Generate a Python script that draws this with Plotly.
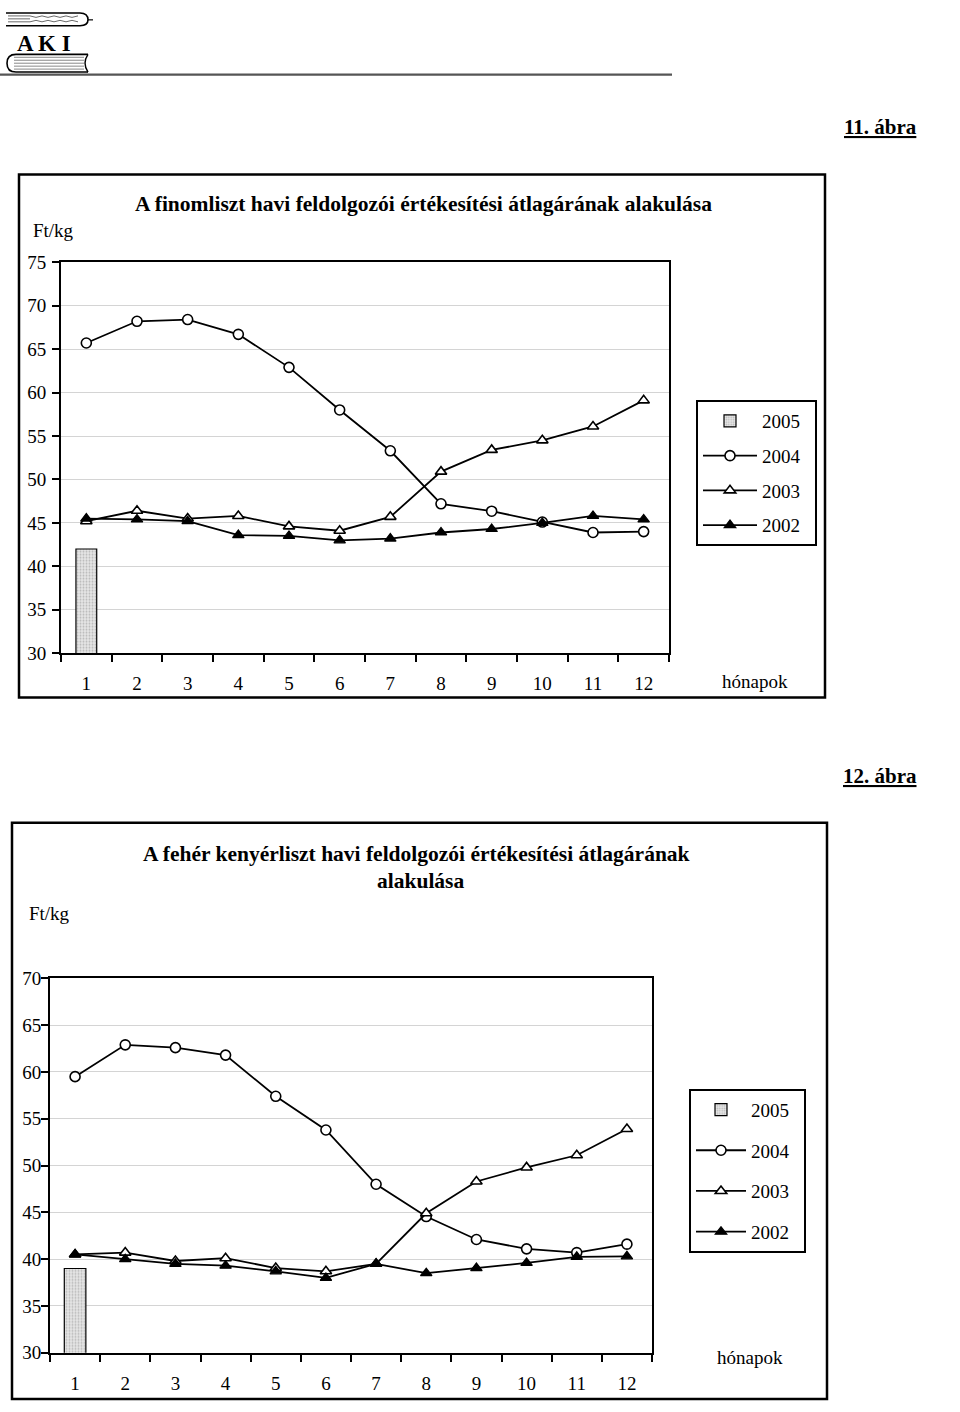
import plotly.graph_objects as go

W, H = 960, 1412
FONT = "Liberation Serif"

months = [str(m) for m in range(1, 13)]

# Chart 1 – finomliszt (Ft/kg)
fin_2005 = [42.0]
fin_2004 = [65.7, 68.2, 68.4, 66.7, 62.9, 58.0, 53.3, 47.2, 46.35, 45.1, 43.9, 44.0]
fin_2003 = [45.2, 46.4, 45.5, 45.8, 44.6, 44.1, 45.7, 50.9, 53.4, 54.5, 56.1, 59.1]
fin_2002 = [45.5, 45.4, 45.2, 43.6, 43.5, 43.0, 43.2, 43.9, 44.3, 45.0, 45.8, 45.4]

# Chart 2 – fehér kenyérliszt (Ft/kg)
keny_2005 = [39.0]
keny_2004 = [59.5, 62.9, 62.6, 61.8, 57.4, 53.8, 48.0, 44.55, 42.1, 41.1, 40.7, 41.6]
keny_2003 = [40.5, 40.7, 39.8, 40.1, 39.05, 38.7, 39.5, 44.9, 48.3, 49.8, 51.1, 53.9]
keny_2002 = [40.5, 40.0, 39.5, 39.3, 38.7, 38.0, 39.5, 38.5, 39.05, 39.6, 40.25, 40.3]

years = ["2005", "2004", "2003", "2002"]
yticks1 = [30, 35, 40, 45, 50, 55, 60, 65, 70, 75]
yticks2 = [30, 35, 40, 45, 50, 55, 60, 65, 70]

PAD = "\u00a0\u00a0"  # right padding inside the legend boxes


def px(x, y):
    return x / W, 1 - y / H


fig = go.Figure()


def add_chart(xa, ya, leg, v05, v04, v03, v02, barw):
    fig.add_trace(go.Bar(
        x=months[:len(v05)], y=v05, name=years[0] + PAD, xaxis=xa, yaxis=ya, legend=leg,
        legendgroup=leg + "a", width=[barw] * len(v05),
        marker=dict(color="#dcdcdc", line=dict(color="black", width=1.2),
                    pattern=dict(shape=".", fgcolor="#8a8a8a", bgcolor="#e6e6e6",
                                 size=3, solidity=0.35)),
    ))
    fig.add_trace(go.Scatter(
        x=months, y=v04, name=years[1] + PAD, xaxis=xa, yaxis=ya, legend=leg,
        legendgroup=leg + "b", mode="lines+markers",
        line=dict(color="black", width=1.8),
        marker=dict(symbol="circle", size=10, color="white",
                    line=dict(color="black", width=1.6)),
    ))
    fig.add_trace(go.Scatter(
        x=months, y=v03, name=years[2] + PAD, xaxis=xa, yaxis=ya, legend=leg,
        legendgroup=leg + "c", mode="lines+markers",
        line=dict(color="black", width=1.8),
        marker=dict(symbol="triangle-up", size=10, color="white",
                    line=dict(color="black", width=1.6)),
    ))
    fig.add_trace(go.Scatter(
        x=months, y=v02, name=years[3] + PAD, xaxis=xa, yaxis=ya, legend=leg,
        legendgroup=leg + "d", mode="lines+markers",
        line=dict(color="black", width=1.8),
        marker=dict(symbol="triangle-up", size=10, color="black",
                    line=dict(color="black", width=1.2)),
    ))


add_chart("x", "y", "legend", fin_2005, fin_2004, fin_2003, fin_2002, 0.41)
add_chart("x2", "y2", "legend2", keny_2005, keny_2004, keny_2003, keny_2002, 0.43)

tickfont = dict(family=FONT, size=19, color="black")


def xaxis(domain, anchor):
    return dict(
        domain=domain, anchor=anchor, type="category", categoryorder="array",
        categoryarray=months, range=[-0.5, 11.5], tickson="boundaries",
        ticks="outside", ticklen=7, tickwidth=2, tickcolor="black",
        showline=True, linecolor="black", linewidth=2, mirror=True,
        showgrid=False, tickfont=tickfont, ticklabelstandoff=12, fixedrange=True,
    )


def yaxis(domain, anchor, rng, vals, standoff):
    return dict(
        domain=domain, anchor=anchor, range=rng, tickvals=vals,
        ticks="outside", ticklen=7, tickwidth=2, tickcolor="black",
        showline=True, linecolor="black", linewidth=2, mirror=True,
        showgrid=True, gridcolor="#d4d4d4", gridwidth=1, zeroline=False,
        tickfont=tickfont, ticklabelstandoff=standoff, fixedrange=True,
    )


x1d = [61 / W, 669 / W]
y1d = [1 - 653 / H, 1 - 256 / H]
x2d = [50 / W, 652 / W]
y2d = [1 - 1363 / H, 1 - 983 / H]

legfont = dict(family=FONT, size=19, color="black")

annotations = []


def ann(text, x, y, size=18, xanchor="center", bold=False):
    ax, ay = px(x, y)
    annotations.append(dict(
        text=("<b>%s</b>" % text) if bold else text, x=ax, y=ay,
        xref="paper", yref="paper", xanchor=xanchor, yanchor="middle",
        showarrow=False, font=dict(family=FONT, size=size, color="black"),
    ))


ann("<u>11. ábra</u>", 880, 119, size=21, bold=True)
ann("<u>12. ábra</u>", 880, 778, size=21, bold=True)
ann("A finomliszt havi feldolgozói értékesítési átlagárának alakulása", 423, 197, size=21.5, bold=True)
ann("A fehér kenyérliszt havi feldolgozói értékesítési átlagárának", 416, 857, size=21.5, bold=True)
ann("alakulása", 420, 884, size=21.5, bold=True)
ann("Ft/kg", 53, 224, size=19)
ann("Ft/kg", 49, 917, size=19)
ann("hónapok", 755, 682, size=19)
ann("hónapok", 750, 1368, size=19)
ann("<b>A K I</b>", 44, 34, size=23)

shapes = []


def rect(x0, y0, x1, y1, width=2.5, color="black"):
    a0, b0 = px(x0, y0)
    a1, b1 = px(x1, y1)
    shapes.append(dict(type="rect", xref="paper", yref="paper", x0=a0, y0=b1,
                       x1=a1, y1=b0, line=dict(color=color, width=width)))


def line(x0, y0, x1, y1, width=1.0, color="black"):
    a0, b0 = px(x0, y0)
    a1, b1 = px(x1, y1)
    shapes.append(dict(type="line", xref="paper", yref="paper", x0=a0, y0=b0,
                       x1=a1, y1=b1, line=dict(color=color, width=width)))


def path(d_pts, width=1.5, color="black"):
    segs = []
    for cmd, pts in d_pts:
        coords = " ".join("%f,%f" % px(x, y) for x, y in pts)
        segs.append(cmd + coords)
    shapes.append(dict(type="path", xref="paper", yref="paper",
                       path=" ".join(segs), line=dict(color=color, width=width)))


# outer chart frames
rect(19, 167, 825, 698, width=2.5)
rect(12, 825, 827, 1410, width=2.5)

# header rule under the logo
line(0, 65.5, 672, 65.5, width=2.2, color="#555555")

# logo: upper book
path([("M", [(6, 3)]), ("L", [(80, 3)]), ("Q", [(88, 3), (88, 10)]),
      ("Q", [(88, 16), (80, 16)]), ("L", [(6, 16)])], width=1.6)
for yy in (6, 9, 12):
    line(8, yy, 30, yy, width=0.8, color="#444")
for k in range(4):
    x0 = 30 + k * 12
    path([("M", [(x0, 6)]), ("Q", [(x0 + 6, 9), (x0 + 12, 6)])], width=0.8, color="#444")
    path([("M", [(x0, 12)]), ("Q", [(x0 + 6, 9), (x0 + 12, 12)])], width=0.8, color="#444")
line(88, 10, 93, 10, width=1.2)
# logo: lower book
path([("M", [(88, 45)]), ("L", [(16, 45)]), ("Q", [(7, 45), (7, 54)]),
      ("Q", [(7, 63), (16, 63)]), ("L", [(88, 63)])], width=1.6)
path([("M", [(88, 45)]), ("Q", [(82, 54), (88, 63)])], width=1.4)
for yy in (48, 51, 54, 57, 60):
    line(14, yy, 84, yy, width=0.7, color="#555")

fig.update_layout(
    width=W, height=H, margin=dict(l=0, r=0, t=0, b=0),
    paper_bgcolor="white", plot_bgcolor="white",
    xaxis=xaxis(x1d, "y"), yaxis=yaxis(y1d, "x", [30, 75], yticks1, 2),
    xaxis2=xaxis(x2d, "y2"), yaxis2=yaxis(y2d, "x2", [30, 70], yticks2, -4),
    legend=dict(x=696 / W, y=1 - 396 / H, xanchor="left", yanchor="top",
                bgcolor="white", bordercolor="black", borderwidth=2,
                font=legfont, traceorder="grouped", tracegroupgap=7,
                itemwidth=54),
    legend2=dict(x=689 / W, y=1 - 1095 / H, xanchor="left", yanchor="top",
                 bgcolor="white", bordercolor="black", borderwidth=2,
                 font=legfont, traceorder="grouped", tracegroupgap=13,
                 itemwidth=50),
    showlegend=True, bargap=0.6,
    annotations=annotations, shapes=shapes,
)

fig.write_html("out.html", post_script="document.body.style.margin='0';",
               config={"displayModeBar": False})
